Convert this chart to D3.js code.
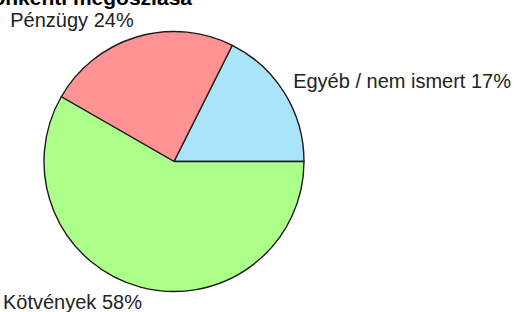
<!DOCTYPE html>
<html>
<head>
<meta charset="utf-8">
<script src="https://cdn.jsdelivr.net/npm/d3@7"></script>
<style>
  body { margin: 0; background: #fff; }
  svg { display: block; font-family: "Liberation Sans", Arial, sans-serif; }
</style>
</head>
<body>
<div id="chart"></div>
<script>
// Data
const categories = ["Egyéb / nem ismert", "Pénzügy", "Kötvények"];
const shares = [17.6, 24.1, 58.3];
const labelPct = [17, 24, 58];
const colors = ["#a9e4fb", "#ff9393", "#acff88"];
const title = "Eszközosztályonkénti megoszlása";

const width = 514, height = 312;
const cx = 174, cy = 161.5, radius = 130;

const data = categories.map((c, i) => ({ name: c, value: shares[i], pct: labelPct[i], color: colors[i] }));

const svg = d3.select("#chart")
    .append("svg")
    .attr("width", width)
    .attr("height", height);

// Title (partly cut off at the top, as in the original)
svg.append("text")
    .attr("x", 192)
    .attr("y", 5)
    .attr("text-anchor", "end")
    .attr("font-size", 21)
    .attr("font-weight", "bold")
    .attr("fill", "#000")
    .text(title);

// Pie starts at 3 o'clock and runs counter-clockwise
const pie = d3.pie()
    .sort(null)
    .value(d => d.value)
    .startAngle(Math.PI / 2)
    .endAngle(Math.PI / 2 - 2 * Math.PI);

const arc = d3.arc().innerRadius(0).outerRadius(radius);
const arcs = pie(data);

const g = svg.append("g").attr("transform", `translate(${cx},${cy})`);

g.selectAll("path")
    .data(arcs)
    .enter()
    .append("path")
    .attr("d", arc)
    .attr("fill", d => d.data.color)
    .attr("stroke", "#1a1a1a")
    .attr("stroke-width", 1.4)
    .attr("stroke-linejoin", "round");

// Labels outside the pie
const labelR = 140;
g.selectAll(".label")
    .data(arcs)
    .enter()
    .append("text")
    .attr("class", "label")
    .each(function(d) {
        const a = (d.startAngle + d.endAngle) / 2;
        const x = labelR * Math.sin(a);
        const y = -labelR * Math.cos(a);
        d3.select(this)
            .attr("x", x < 0 && y > 0 ? x + 4 : x)
            .attr("y", y)
            .attr("dy", y > 0 ? "0.6em" : 0)
            .attr("text-anchor", x < 0 ? "end" : "start");
    })
    .attr("font-size", 20)
    .attr("fill", "#222")
    .text(d => `${d.data.name} ${d.data.pct}%`);
</script>
</body>
</html>
